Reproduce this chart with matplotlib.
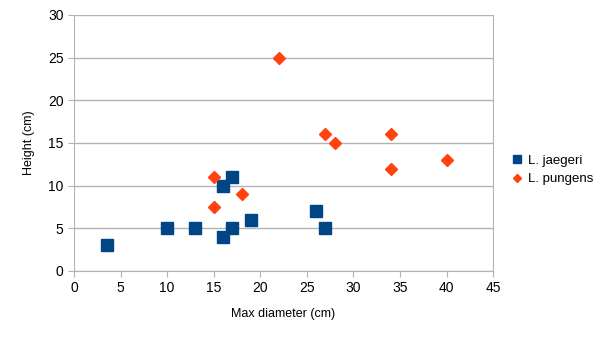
import matplotlib.pyplot as plt

plt.rcParams['font.family'] = ['Liberation Sans', 'DejaVu Sans']

# Lithops measurements: max diameter vs height (cm)
jaegeri_diam = [3.5, 10, 13, 16, 16, 17, 17, 19, 26, 27]
jaegeri_height = [3, 5, 5, 4, 10, 11, 5, 6, 7, 5]

pungens_diam = [15, 15, 18, 22, 27, 28, 34, 34, 40]
pungens_height = [11, 7.5, 9, 25, 16, 15, 16, 12, 13]

fig = plt.figure(figsize=(6.05, 3.4), dpi=100)
ax = fig.add_axes([0.1223, 0.203, 0.6927, 0.753])

ax.plot(jaegeri_diam, jaegeri_height, 's', color='#004586', markersize=8.5,
        markeredgecolor='#004586', label='L. jaegeri', zorder=3)
ax.plot(pungens_diam, pungens_height, 'D', color='#ff420e', markersize=6.5,
        markeredgecolor='#ff420e', label='L. pungens', zorder=3)

ax.set_xlim(0, 45)
ax.set_ylim(0, 30)
ax.set_xticks(range(0, 46, 5))
ax.set_yticks(range(0, 31, 5))
ax.yaxis.grid(True, color='#b3b3b3', linewidth=1)
ax.set_axisbelow(True)
for s in ax.spines.values():
    s.set_color('#b3b3b3')
ax.spines['top'].set_visible(False)
ax.tick_params(colors='#b3b3b3', labelcolor='black', labelsize=10, length=4)

ax.set_xlabel('Max diameter (cm)', fontsize=9, labelpad=9)
ax.set_ylabel('Height (cm)', fontsize=9, labelpad=9)

ax.legend(loc='center left', bbox_to_anchor=(1.02, 0.395), frameon=False,
          fontsize=9.5, markerscale=0.6, handlelength=0.6, handletextpad=0.5)

fig.savefig('out.png', dpi=100)
